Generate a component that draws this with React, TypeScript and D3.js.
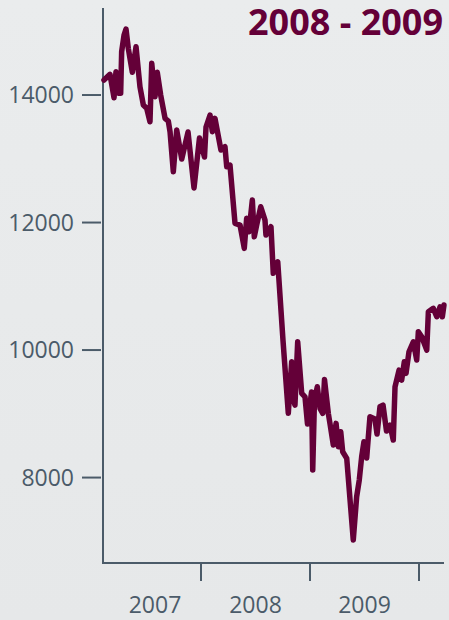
import React from "react";
import * as d3 from "d3";

// decimal-year positions of weekly observations
const years: number[] = [
  2007.110, 2007.165, 2007.202, 2007.220, 2007.241, 2007.263, 2007.272, 2007.294, 2007.312, 2007.333,
  2007.370, 2007.404, 2007.440, 2007.471, 2007.502, 2007.532, 2007.548, 2007.578, 2007.599, 2007.630,
  2007.670, 2007.700, 2007.716, 2007.746, 2007.777, 2007.823, 2007.881, 2007.936, 2007.986, 2008.032,
  2008.046, 2008.083, 2008.104, 2008.128, 2008.183, 2008.220, 2008.236, 2008.266, 2008.312, 2008.358,
  2008.397, 2008.419, 2008.440, 2008.471, 2008.489, 2008.511, 2008.548, 2008.587, 2008.596, 2008.642,
  2008.663, 2008.704, 2008.752, 2008.801, 2008.832, 2008.849, 2008.862, 2008.887, 2008.924, 2008.954,
  2008.977, 2009.014, 2009.025, 2009.041, 2009.067, 2009.092, 2009.117, 2009.133, 2009.168, 2009.183,
  2009.214, 2009.239, 2009.260, 2009.282, 2009.300, 2009.337, 2009.397, 2009.428, 2009.452, 2009.474,
  2009.495, 2009.520, 2009.550, 2009.596, 2009.615, 2009.642, 2009.670, 2009.702, 2009.734, 2009.764,
  2009.780, 2009.817, 2009.841, 2009.865, 2009.881, 2009.908, 2009.948, 2009.979, 2009.994, 2010.025,
  2010.071, 2010.086, 2010.131, 2010.163, 2010.193, 2010.214, 2010.229,
];

const index: number[] = [
  14235, 14325, 13958, 14365, 14027, 14027, 14679, 14941, 15035, 14732,
  14356, 14757, 14130, 13843, 13791, 13581, 14497, 13973, 14356, 14000,
  13634, 13592, 13424, 12797, 13451, 12996, 13420, 12541, 13325, 13027,
  13498, 13686, 13424, 13634, 13137, 13189, 12875, 12902, 11987, 11961,
  11595, 12066, 11856, 12353, 11777, 11961, 12248, 12039, 11804, 11934,
  11203, 11385, 10157, 9007, 9816, 9216, 9137, 10130, 9321, 9267,
  8839, 9341, 8118, 9216, 9424, 9085, 9007, 9537, 9007, 8850,
  8510, 8850, 8483, 8718, 8405, 8301, 7020, 7699, 7961, 8326,
  8562, 8306, 8954, 8918, 8682, 9111, 9137, 8729, 8824, 8588,
  9424, 9686, 9529, 9816, 9634, 9973, 10130, 9843, 10287, 10209,
  10000, 10601, 10654, 10522, 10679, 10522, 10706,
];

const yTicks: number[] = [8000, 10000, 12000, 14000];
const xTickYears: number[] = [2008, 2009, 2010];
const yearLabels: string[] = ["2007", "2008", "2009"];
const title = "2008 - 2009";

const W = 449;
const H = 620;
const axisColor = "#4b5b69";
const lineColor = "#640038";
const font = "'Open Sans', 'DejaVu Sans', sans-serif";

export default function App() {
  const x = d3.scaleLinear().domain([2008, 2010]).range([201, 419]);
  const y = d3.scaleLinear().domain([6660, 15365]).range([563, 8]);
  const x0 = 103;
  const x1 = 444;
  const yBottom = 563;
  const yTop = 8;

  const pts = years.map((yr, i) => [yr, index[i]] as [number, number]);
  const line = d3
    .line<[number, number]>()
    .x((d) => x(d[0]))
    .y((d) => y(d[1]));

  const startYear = x.invert(x0);
  const labelPos = yearLabels.map((lab, i) => {
    const yr = +lab;
    const a = Math.max(yr, startYear);
    const b = yr + 1;
    return (x(a) + x(b)) / 2 + (i === 0 ? 3 : 0);
  });

  return (
    <svg
      width={W}
      height={H}
      style={{ position: "absolute", left: 0, top: 0, display: "block" }}
    >
      <defs>
        <linearGradient id="bg" x1="0" y1="0" x2="0" y2="1">
          <stop offset="0" stopColor="#eaeced" />
          <stop offset="1" stopColor="#e6e8e9" />
        </linearGradient>
      </defs>
      <rect width={W} height={H} fill="url(#bg)" />

      {/* axes */}
      <line x1={x0} x2={x0} y1={yTop} y2={yBottom} stroke={axisColor} strokeWidth={2} />
      <line x1={x0 - 1} x2={x1} y1={yBottom} y2={yBottom} stroke={axisColor} strokeWidth={2} />

      {yTicks.map((t) => (
        <g key={t}>
          <line x1={82} x2={101} y1={y(t)} y2={y(t)} stroke={axisColor} strokeWidth={2} />
          <text
            x={74}
            y={y(t)}
            dy="0.35em"
            textAnchor="end"
            fill={axisColor}
            fontFamily={font}
            fontSize={23}
          >
            {t}
          </text>
        </g>
      ))}

      {xTickYears.map((t) => (
        <line key={t} x1={x(t)} x2={x(t)} y1={yBottom} y2={581} stroke={axisColor} strokeWidth={2} />
      ))}

      {yearLabels.map((lab, i) => (
        <text
          key={lab}
          x={labelPos[i]}
          y={613}
          textAnchor="middle"
          fill={axisColor}
          fontFamily={font}
          fontSize={23}
        >
          {lab}
        </text>
      ))}

      <path
        d={line(pts) || ""}
        fill="none"
        stroke={lineColor}
        strokeWidth={5.5}
        strokeLinejoin="round"
        strokeLinecap="round"
      />

      <text
        x={443}
        y={35}
        textAnchor="end"
        fill={lineColor}
        fontFamily={font}
        fontWeight={700}
        fontSize={36}
      >
        {title}
      </text>
    </svg>
  );
}
